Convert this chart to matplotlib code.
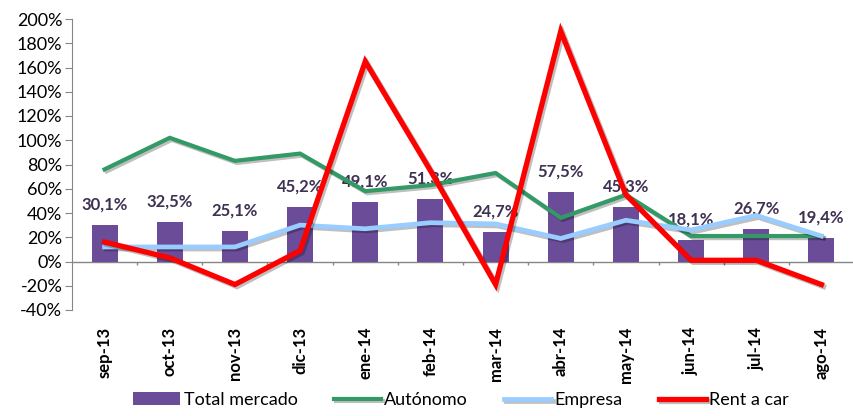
import numpy as np
import matplotlib
matplotlib.use('Agg')
import matplotlib.pyplot as plt
import matplotlib.ticker as ticker
import matplotlib.patheffects as pe

plt.rcParams['font.family'] = ['Lato', 'DejaVu Sans']

# ── data ──────────────────────────────────────────────
meses = ['sep-13', 'oct-13', 'nov-13', 'dic-13', 'ene-14', 'feb-14',
         'mar-14', 'abr-14', 'may-14', 'jun-14', 'jul-14', 'ago-14']
total_mercado = [30.1, 32.5, 25.1, 45.2, 49.1, 51.3, 24.7, 57.5, 45.3, 18.1, 26.7, 19.4]
autonomo = [76, 102, 83, 89, 58, 63, 73, 36, 55, 21, 21, 21]
empresa = [12, 12, 12, 30, 27, 32, 31, 19, 34, 26, 38, 21]
rent_a_car = [16, 3, -19, 9, 165, 75, -19, 190, 55, 1, 1, -19]

x = np.arange(len(meses))

fig = plt.figure(figsize=(8.54, 4.16), dpi=100)
ax = fig.add_axes([72 / 854, 1 - 310 / 416, 1 - 72 / 854, (310 - 19) / 416])

shadow = [pe.SimpleLineShadow(offset=(1.5, -1.5), alpha=0.25, shadow_color='black'), pe.Normal()]

b = ax.bar(x, total_mercado, width=0.4, color='#6A4C98', zorder=2,
           label='Total mercado')
for xi, v in zip(x, total_mercado):
    ax.annotate(f'{v:.1f}%'.replace('.', ','), (xi, v), xytext=(0, 9),
                textcoords='offset points', ha='center', va='bottom',
                fontsize=12, fontweight='bold', color='#3F3151', zorder=3)

l1, = ax.plot(x, autonomo, color='#339966', lw=3.0, zorder=4, label='Autónomo',
              path_effects=shadow, solid_joinstyle='miter')
l2, = ax.plot(x, empresa, color='#99CCFF', lw=3.4, zorder=4, label='Empresa',
              path_effects=shadow, solid_joinstyle='miter')
l3, = ax.plot(x, rent_a_car, color='#FF0000', lw=3.8, zorder=5, label='Rent a car',
              path_effects=shadow, solid_joinstyle='miter')

# eje horizontal en 0 con marcas entre categorías
ax.axhline(0, color='#868686', lw=1, zorder=1)
ax.vlines(x[:-1] + 0.5, -3, 0, color='#868686', lw=1, zorder=1)

ax.set_xlim(-0.5, len(meses) - 0.5)
ax.set_ylim(-40, 200)
ax.set_yticks(np.arange(-40, 201, 20))
ax.yaxis.set_major_formatter(ticker.FuncFormatter(lambda v, _: f'{v:.0f}%'))
ax.tick_params(axis='y', labelsize=13, length=5, color='#868686', labelcolor='#000000', pad=2)

ax.set_xticks(x)
ax.set_xticklabels(meses, rotation=90, fontsize=12, fontweight='bold')
ax.tick_params(axis='x', length=0, pad=12)

for s in ['top', 'right', 'bottom']:
    ax.spines[s].set_visible(False)
ax.spines['left'].set_color('#868686')

fig.legend([b, l1, l2, l3], ['Total mercado', 'Autónomo', 'Empresa', 'Rent a car'],
           loc='lower center', bbox_to_anchor=(0.54, -0.02), ncol=4, frameon=False,
           fontsize=13, handlelength=2.6, handletextpad=0.2, columnspacing=2.0)

fig.savefig('out.png', dpi=100)
